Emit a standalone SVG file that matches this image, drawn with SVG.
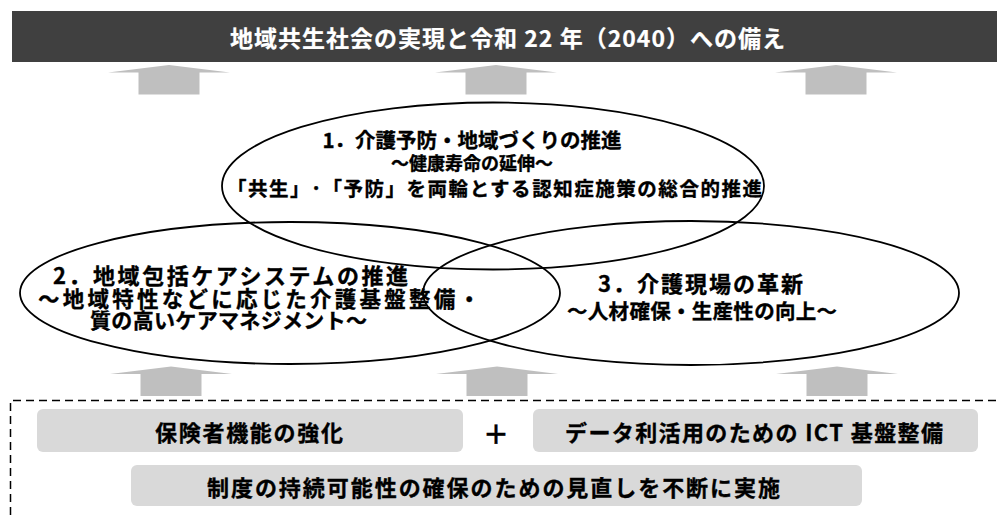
<svg xmlns="http://www.w3.org/2000/svg" width="997" height="515" viewBox="0 0 997 515">
<style>
.t{font-family:"Noto Sans CJK JP","Noto Sans",sans-serif;font-weight:bold;fill:#000;stroke:#000;stroke-width:0.35;dominant-baseline:central}
.w{fill:#fff;stroke:#fff;stroke-width:0.2}
.ell{fill:none;stroke:#000;stroke-width:1.8}
.arr{fill:#bfbfbf}
.box{fill:#d9d9d9}
</style>
<defs>
<polygon id="up" class="arr" points="-61,7.5 0,0 61,7.5 30.5,7.5 30.5,29.5 -30.5,29.5 -30.5,7.5"/>
</defs>
<rect width="997" height="515" fill="#fff"/>
<g id="goal">
<rect x="12" y="11" width="985" height="51" fill="#404040"/>
<text class="t w" x="230" y="37" font-size="23" textLength="555" lengthAdjust="spacing">地域共生社会の実現と令和 22 年（2040）への備え</text>
</g>
<g id="connectors">
<use href="#up" x="169" y="65"/>
<use href="#up" x="496" y="65"/>
<use href="#up" x="836" y="65"/>
<use href="#up" x="171" y="366.5"/>
<use href="#up" x="497" y="366.5"/>
<use href="#up" x="837" y="366.5"/>
</g>
<g id="pillar1">
<ellipse class="ell" cx="493" cy="186" rx="271" ry="83.5"/>
<text class="t" x="472" y="139" font-size="20.5" text-anchor="middle">1．介護予防・地域づくりの推進</text>
<text class="t" x="472" y="162" font-size="18" text-anchor="middle">～健康寿命の延伸～</text>
<text class="t" x="227" y="187" font-size="19.5" textLength="535">「共生」･「予防」を両輪とする認知症施策の総合的推進</text>
</g>
<g id="pillar2">
<ellipse class="ell" cx="290" cy="293" rx="270" ry="71"/>
<text class="t" x="53" y="274" font-size="22" textLength="355">2．地域包括ケアシステムの推進</text>
<text class="t" x="38" y="297" font-size="21.5" textLength="442">～地域特性などに応じた介護基盤整備・</text>
<text class="t" x="90" y="319" font-size="21" textLength="277">質の高いケアマネジメント～</text>
</g>
<g id="pillar3">
<ellipse class="ell" cx="691" cy="293" rx="268" ry="72"/>
<text class="t" x="598" y="282" font-size="22" textLength="205">3．介護現場の革新</text>
<text class="t" x="567" y="310" font-size="20.5" textLength="270">～人材確保・生産性の向上～</text>
</g>
<g id="base">
<path d="M10.5,515 V400.5 H997" fill="none" stroke="#000" stroke-width="1.5" stroke-dasharray="8,5"/>
</g>
<g id="insurer">
<rect class="box" x="37" y="409" width="426" height="43" rx="6"/>
<text class="t" x="155" y="431" font-size="22" textLength="188">保険者機能の強化</text>
</g>
<g id="plus">
<text class="t" x="496" y="432" font-size="26" text-anchor="middle">＋</text>
</g>
<g id="ict">
<rect class="box" x="533" y="409" width="445" height="43" rx="6"/>
<text class="t" x="565" y="431" font-size="22" textLength="378">データ利活用のための ICT 基盤整備</text>
</g>
<g id="review">
<rect class="box" x="131" y="465" width="731" height="41" rx="6"/>
<text class="t" x="207" y="486" font-size="22" textLength="573">制度の持続可能性の確保のための見直しを不断に実施</text>
</g>
</svg>
